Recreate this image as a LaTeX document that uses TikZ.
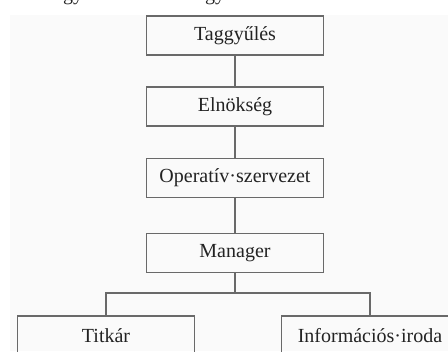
\documentclass[tikz,border=0pt]{standalone}
\usepackage{fontspec}
\setmainfont{Liberation Serif}
\definecolor{bgpage}{RGB}{250,250,250}
\definecolor{linec}{RGB}{105,105,105}
\definecolor{textc}{RGB}{35,35,35}
\begin{document}
\begin{tikzpicture}[x=0.75pt,y=-0.75pt,
  orgbox/.style={draw=linec,line width=1pt,minimum width=177*0.75pt,minimum height=39*0.75pt,
    inner sep=0pt,font=\fontsize{15}{18}\selectfont,text=textc},
  conn/.style={draw=linec,line width=1pt},
  frag/.style={anchor=base,inner sep=0pt,font=\fontsize{15}{18}\selectfont,text=textc}]
\useasboundingbox (0,0) rectangle (448,351);
\fill[bgpage] (10,15) rectangle (448,351);
\node[frag] (f1) at (73,0) {gy};
\node[frag] (f2) at (215,0) {gy};
\node[orgbox] (t) at (235,35.5) {Taggyűlés};
\node[orgbox] (e) at (235,106.5) {Elnökség};
\node[orgbox] (o) at (235,178) {Operatív·szervezet};
\node[orgbox] (m) at (235,253) {Manager};
\node[orgbox] (ti) at (106,335.5) {Titkár};
\node[orgbox] (in) at (370,335.5) {Információs·iroda};
\coordinate (bar) at (235,293);
\draw[conn] (t) -- (e);
\draw[conn] (e) -- (o);
\draw[conn] (o) -- (m);
\draw[conn] (m) -- (bar);
\draw[conn] (bar) -| (ti.north);
\draw[conn] (bar) -| (in.north);
\end{tikzpicture}
\end{document}
